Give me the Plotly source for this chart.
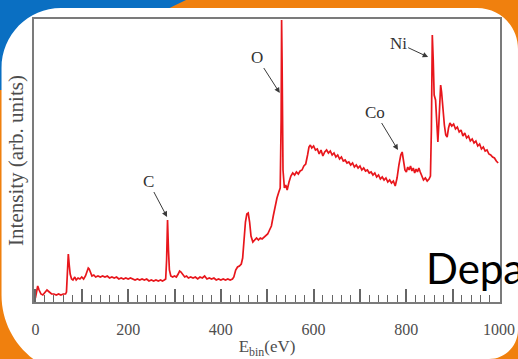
import plotly.graph_objects as go

# ---- data (binding energy in eV, intensity in arb. units) ----
energy = [0, 2, 5, 8, 12, 16, 20, 25, 30, 35, 40, 45, 50, 55, 60, 65, 67, 69, 71, 73, 75, 78, 81, 85, 88, 92, 96,
          100, 104, 108, 111, 114, 116, 119, 122, 126, 130, 135, 140, 145, 150, 155, 160, 165, 170, 175, 180, 185,
          190, 195, 200, 205, 210, 215, 220, 225, 230, 235, 240, 245, 250, 255, 260, 265, 270, 274, 278, 281, 283,
          285, 287, 289, 292, 296, 300, 304, 308, 311, 314, 318, 322, 326, 330, 335, 340, 345, 350, 355, 360, 365,
          370, 375, 380, 385, 390, 395, 400, 405, 410, 415, 420, 425, 428, 432, 436, 440, 444, 447, 450, 453, 456,
          459, 462, 465, 469, 473, 477, 481, 485, 489, 493, 497, 501, 505, 509, 513, 517, 521, 525, 528, 530, 531,
          532, 534, 537, 540, 543, 547, 551, 555, 559, 563, 567, 571, 575, 579, 583, 587, 590, 593, 596, 600, 604,
          608, 612, 616, 620, 624, 628, 632, 636, 640, 644, 648, 652, 656, 660, 664, 668, 672, 676, 680, 684, 688,
          692, 696, 700, 704, 708, 712, 716, 720, 724, 728, 732, 736, 740, 744, 748, 752, 756, 760, 764, 768, 772,
          776, 780, 784, 788, 791, 794, 797, 800, 803, 806, 809, 812, 815, 818, 821, 824, 827, 830, 833, 837, 841,
          845, 849, 852, 854, 855, 856, 858, 860, 863, 866, 868, 870, 872, 874, 876, 879, 882, 885, 888, 891, 894,
          898, 902, 906, 910, 914, 918, 922, 926, 930, 934, 938, 942, 946, 950, 954, 958, 962, 966, 970, 974, 978,
          982, 986, 990, 994, 998]
intensity = [4, 10, 16, 12, 8, 7, 9, 12, 10, 8, 8, 7, 8, 7, 8, 8, 10, 27, 48, 37, 28, 23, 22, 25, 22, 24, 23,
             25, 23, 26, 30, 34, 33, 29, 26, 27, 25, 26, 25, 26, 25, 26, 24, 25, 24, 25, 23, 24,
             23, 24, 23, 24, 23, 22, 23, 22, 23, 22, 23, 21, 22, 21, 22, 21, 22, 21, 22, 23, 42,
             82, 52, 32, 26, 25, 26, 25, 28, 31, 30, 27, 25, 26, 24, 25, 24, 25, 23, 25, 24, 26,
             23, 24, 23, 24, 22, 23, 22, 23, 22, 23, 22, 23, 25, 32, 35, 36, 38, 44, 62, 80, 88,
             89, 80, 66, 60, 62, 64, 62, 64, 63, 65, 66, 68, 72, 76, 86, 97, 104, 110, 114, 182, 282,
             242, 132, 114, 117, 112, 120, 126, 129, 127, 130, 128, 131, 132, 136, 138, 147, 155, 157, 154, 156, 152,
             153, 148, 152, 146, 150, 152, 149, 151, 147, 149, 145, 147, 143, 145, 141, 142, 139, 140, 137, 139, 135,
             137, 134, 136, 132, 134, 131, 132, 129, 130, 127, 129, 125, 127, 123, 125, 122, 124, 120, 122, 119, 121,
             116, 124, 137, 147, 150, 142, 132, 130, 135, 132, 136, 131, 134, 129, 133, 130, 134, 130, 126, 122, 124,
             121, 123, 126, 172, 232, 267, 242, 207, 202, 177, 160, 177, 207, 217, 210, 192, 177, 167, 165, 174, 179,
             176, 178, 173, 175, 170, 172, 166, 169, 164, 166, 161, 163, 159, 161, 156, 158, 153, 155, 151, 152, 148,
             147, 145, 144, 141, 139]

peak_labels = ["C", "O", "Co", "Ni"]
peak_energy = [284, 527, 782, 847]
peak_intensity = [85, 209, 152, 245]
label_dx = [-19, -23, -23, -30]
label_dy = [-36, -36, -38, -14]

x_tickvals = [0, 100, 200, 300, 400, 500, 600, 700, 800, 900, 1000]
x_ticktext = ["0", " ", "200", " ", "400", " ", "600", " ", "800", " ", "1000"]

W, H = 518, 359
L, R, T, B = 34, 18, 19, 57
PW, PH = W - L - R, H - T - B


def px(x, y):
    return (x - L) / PW, (H - B - y) / PH


def path(cmds):
    out = []
    for c in cmds:
        if isinstance(c, str):
            out.append(c)
        else:
            u, v = px(*c)
            out.append(f"{u:.4f},{v:.4f}")
    return " ".join(out)


blue_path = path(["M", (0, 0), "L", (186, 0), "C", (178, 4), (172, 7), (165, 10), "L", (165, 90), "L", (0, 90), "Z"])
white_path = path(["M", (1.5, 68), "C", (1.5, 35), (28, 8), (61, 8), "L", (477, 8),
                   "C", (500, 8), (518, 26), (518, 49), "L", (518, 330),
                   "C", (518, 346), (505, 359), (489, 359), "L", (489, 380), "L", (81, 380),
                   "L", (81, 375), "C", (37, 375), (1.5, 339), (1.5, 295), "Z"])

fig = go.Figure()
fig.add_trace(go.Scatter(x=energy, y=intensity, mode="lines",
                         line=dict(color="#e8161c", width=1.7), showlegend=False,
                         hoverinfo="skip"))

shapes = [
    dict(type="path", xref="paper", yref="paper", path=blue_path, fillcolor="#0a6fc2",
         line=dict(width=0), layer="below"),
    dict(type="path", xref="paper", yref="paper", path=white_path, fillcolor="white",
         line=dict(width=0), layer="below"),
]

annotations = []
for lab, e, i, dx, dy in zip(peak_labels, peak_energy, peak_intensity, label_dx, label_dy):
    annotations.append(dict(x=e, y=i, xref="x", yref="y", text=lab, showarrow=True,
                            ax=dx, ay=dy, arrowhead=2, arrowsize=1.1, arrowwidth=1,
                            arrowcolor="#3a3a3a", standoff=0,
                            font=dict(family="Liberation Serif", size=17, color="#333333")))
dx_, dy_ = px(424, 268)
annotations.append(dict(x=dx_, y=dy_, xref="paper", yref="paper", text="Depa", showarrow=False,
                        xanchor="left", yanchor="middle",
                        font=dict(family="Lato", size=42, color="black")))

fig.update_layout(
    width=W, height=H,
    margin=dict(l=L, r=R, t=T, b=B, autoexpand=False),
    paper_bgcolor="#f0800e",
    plot_bgcolor="white",
    shapes=shapes,
    annotations=annotations,
    showlegend=False,
)

fig.update_xaxes(
    range=[-3, 1002], showgrid=False, zeroline=False, automargin=False,
    showline=True, mirror=True, linecolor="#7b7b7b", linewidth=2,
    ticks="inside", ticklen=13, tickwidth=1.5, tickcolor="#666666",
    tickmode="array", tickvals=x_tickvals, ticktext=x_ticktext,
    minor=dict(ticks="inside", ticklen=7, tickwidth=1.2, tickcolor="#666666", tickmode="linear", tick0=0, dtick=20),
    tickfont=dict(family="Liberation Serif", size=16, color="#4d4d4d"),
    ticklabelstandoff=12,
    title=dict(text="E<sub>bin</sub>(eV)", font=dict(family="Liberation Serif", size=17, color="#4d4d4d"),
               standoff=4),
)
fig.update_yaxes(
    range=[0, 283], showgrid=False, zeroline=False, automargin=False,
    showline=True, mirror=True, linecolor="#7b7b7b", linewidth=2,
    ticks="", showticklabels=False,
    title=dict(text="Intensity (arb. units)", font=dict(family="Liberation Serif", size=21, color="#4d4d4d"),
               standoff=3),
)

fig.write_html("out.html", config={"displayModeBar": False},
               post_script="document.body.style.margin='0';document.body.style.overflow='hidden';")
